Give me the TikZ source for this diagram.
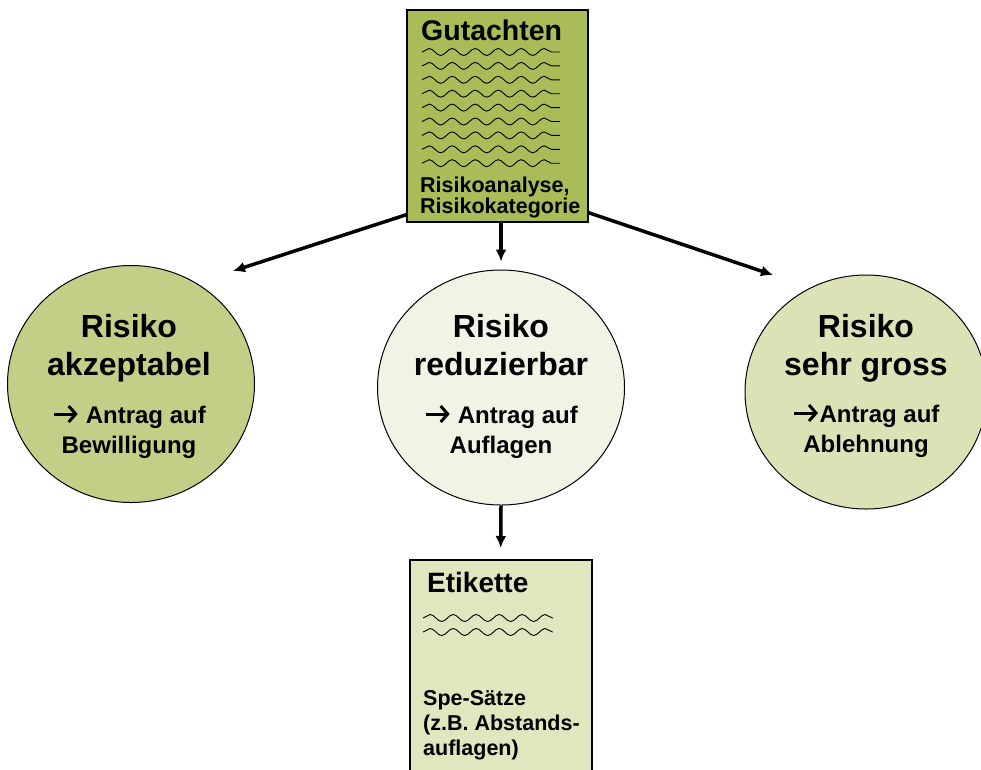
\documentclass[tikz,border=0pt]{standalone}
\usepackage{fontspec}
\setmainfont{Liberation Sans}
\usepackage{xcolor}
\usetikzlibrary{shapes.geometric,arrows.meta,decorations.pathmorphing}

\definecolor{olive}{HTML}{A9BC57}
\definecolor{oliveLight}{HTML}{C4CE86}
\definecolor{olivePale}{HTML}{F1F3E5}
\definecolor{oliveMid}{HTML}{DCE2B5}
\definecolor{oliveBox}{HTML}{E1E6BF}
\newcommand{\ra}{\tikz[baseline=0pt]\draw[line width=3pt,-{Straight Barb[length=7pt,width=16pt]}] (0pt,9pt) -- (24pt,9pt);}

\begin{document}
\begin{tikzpicture}[x=1pt,y=-1pt,
    every node/.style={font=\bfseries},
    risk/.style={ellipse,draw,line width=1pt,inner sep=0pt},
    big/.style={anchor=base,align=center,font=\bfseries\fontsize{32}{38}\selectfont},
    small/.style={anchor=base,align=center,font=\bfseries\fontsize{24}{30}\selectfont},
    arr/.style={-{Latex[length=12pt,width=11pt]},line width=3.5pt},
    wave/.style={decorate,decoration={snake,amplitude=3.5pt,segment length=23pt},line width=0.9pt}]
            \useasboundingbox (0,0) rectangle (981,769);

            % Gutachten
            \node[draw,fill=olive,line width=1.5pt,minimum width=181,minimum height=212,inner sep=0pt] (gut) at (497.5,116) {};
            \node[anchor=base west,font=\bfseries\fontsize{28.5}{30}\selectfont,inner sep=0pt] (gutT) at (421,40) {Gutachten};
            \foreach \i in {0,...,8}
                \draw[wave] (422,52+\i*13.9) -- (560,52+\i*13.9);
            \node[anchor=base west,align=left,font=\bfseries\fontsize{21.5}{21}\selectfont,inner sep=0pt] (gutS) at (420,213) {Risikoanalyse,\\Risikokategorie};

            % circles
            \node[risk,fill=oliveLight,minimum width=247,minimum height=237] (akz) at (131,384) {};
            \node[risk,fill=olivePale,minimum width=247,minimum height=235] (red) at (501,387.5) {};
            \node[risk,fill=oliveMid,minimum width=242,minimum height=234] (gross) at (866,392) {};

            \node[big] (akzT) at (129,375) {Risiko\\akzeptabel};
            \node[small] (akzS) at (129,453) {\ra{} Antrag auf\\Bewilligung};
            \node[big] (redT) at (501,375) {Risiko\\reduzierbar};
            \node[small] (redS) at (501,453) {\ra{} Antrag auf\\Auflagen};
            \node[big] (grossT) at (866,375) {Risiko\\sehr gross};
            \node[small] (grossS) at (866,452) {\ra{}Antrag auf\\Ablehnung};

            % Etikette
            \node[draw,fill=oliveBox,line width=1.5pt,anchor=north west,minimum width=182,minimum height=240,inner sep=0pt] (eti) at (409,559) {};
            \node[anchor=base west,font=\bfseries\fontsize{28}{30}\selectfont,inner sep=0pt] (etiT) at (427,592) {Etikette};
            \foreach \i in {0,1}
                \draw[wave] (423,618+\i*14) -- (553,618+\i*14);
            \node[anchor=base west,align=left,font=\bfseries\fontsize{21.5}{25}\selectfont,inner sep=0pt] (etiS) at (423,755) {Spe-Sätze\\(z.B. Abstands-\\auflagen)};

            % arrows
            \coordinate (akzTip) at (233,271);
            \coordinate (grossTip) at (773,275);
            \draw[arr] ([yshift=8pt]gut.south west) -- (akzTip);
            \draw[arr] ([yshift=10pt]gut.south east) -- (grossTip);
            \draw[arr] (red.north |- gut.south) -- ([yshift=8pt]red.north);
            \draw[arr] (red.south) -- ([yshift=11pt]eti.north);
        \end{tikzpicture}
\end{document}
